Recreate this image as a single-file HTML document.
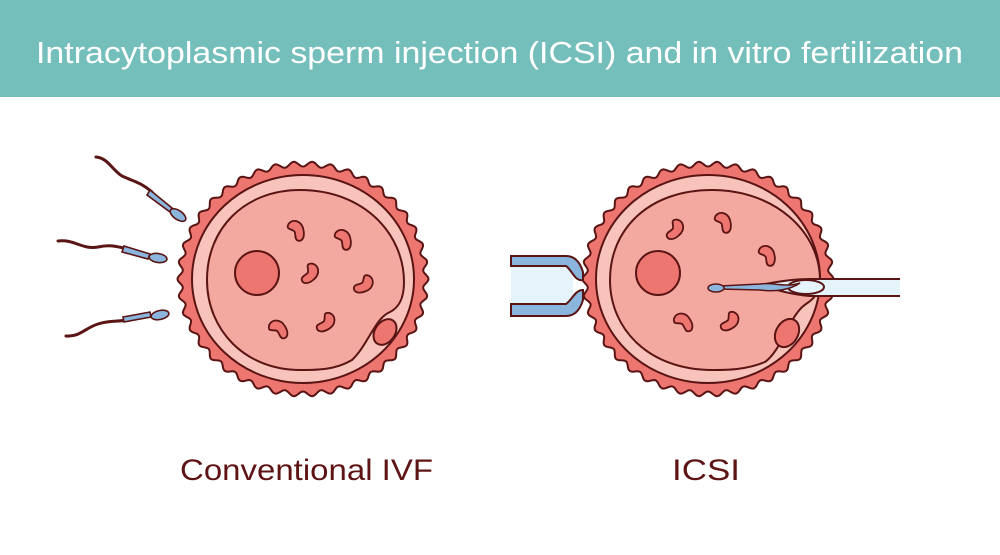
<!DOCTYPE html>
<html><head><meta charset="utf-8"><style>
html,body{margin:0;padding:0;background:#fff;}
svg{display:block;}
</style></head><body>
<svg id="s" width="1000" height="555" viewBox="0 0 1000 555" xmlns="http://www.w3.org/2000/svg">
<defs>
<path id="k" d="M-5,-4 C-2,-8 4,-6 5,0 C6,5 4,8 1,7 C-1,6 0,3 -1,1 C-3,-1 -7,0 -5,-4 Z"/>
</defs>
<rect x="0" y="0" width="1000" height="97" fill="#74bfbb"/>
<text x="36" y="63" font-family="Liberation Sans, sans-serif" font-size="31" fill="#fff" textLength="927" lengthAdjust="spacingAndGlyphs">Intracytoplasmic sperm injection (ICSI) and in vitro fertilization</text>

<g stroke="#5a1414" stroke-width="2" stroke-linejoin="round">
<path id="w1" fill="#ee7670"/>
<ellipse cx="303" cy="279" rx="111" ry="104" fill="#f7c3ba"/>
<path d="M300,190 C365,190 404,235 404,282 C404,300 398,308 390,312 C375,318 368,345 352,360 C335,370 318,370 300,370 C245,370 207,330 207,280 C207,228 245,190 300,190 Z" fill="#f4a9a0"/>
<circle cx="257" cy="273" r="22" fill="#ee7670"/>
<ellipse cx="385" cy="332" rx="10" ry="14" transform="rotate(35 385 332)" fill="#ee7670"/>
<path id="w2" fill="#ee7670"/>
<ellipse cx="708" cy="279" rx="112" ry="104" fill="#f7c3ba"/>
<path d="M712,190 C775,190 820,232 820,280 C820,292 815,298 806,304 C790,314 782,350 765,362 C745,370 728,370 712,370 C650,370 610,330 610,280 C610,228 650,190 712,190 Z" fill="#f4a9a0"/>
<circle cx="658" cy="273" r="22" fill="#ee7670"/>
<ellipse cx="787" cy="333" rx="11" ry="15" transform="rotate(30 787 333)" fill="#ee7670"/>
</g>

<g fill="#ee7670" stroke="#5a1414" stroke-width="1.2">
<use href="#k" transform="translate(296,230) scale(1.5)"/>
<use href="#k" transform="translate(343,239) scale(1.5)"/>
<use href="#k" transform="translate(310,273) rotate(60) scale(1.5)"/>
<use href="#k" transform="translate(364,284) rotate(80) scale(1.5)"/>
<use href="#k" transform="translate(326,322) rotate(70) scale(1.5)"/>
<use href="#k" transform="translate(278,329) rotate(-20) scale(1.5)"/>
<use href="#k" transform="translate(675,229) rotate(60) scale(1.5)"/>
<use href="#k" transform="translate(723,222) scale(1.5)"/>
<use href="#k" transform="translate(767,255) scale(1.5)"/>
<use href="#k" transform="translate(683,322) rotate(-20) scale(1.5)"/>
<use href="#k" transform="translate(730,321) rotate(70) scale(1.5)"/>
</g>

<g stroke="#5a1414" stroke-width="3" fill="none" stroke-linecap="round">
<path d="M96,157 C108,158 112,170 122,176 C135,182 140,182 152,192"/>
<path d="M58,241 C75,239 82,250 98,247 C112,244 118,247 128,249"/>
<path d="M66,336 C80,337 85,328 98,324 C110,320 118,322 126,320"/>
</g>
<g fill="#8ab6de" stroke="#5a1414" stroke-width="1.6">
<path d="M150,190 L172,208 L170,212 L147,195 Z"/>
<ellipse cx="178" cy="215" rx="9" ry="4.5" transform="rotate(35 178 215)"/>
<path d="M124,246 L150,254 L148,259 L122,252 Z"/>
<ellipse cx="158" cy="258" rx="9" ry="4.5" transform="rotate(8 158 258)"/>
<path d="M123,317 L150,312 L151,317 L124,322 Z"/>
<ellipse cx="160" cy="315" rx="9" ry="4.5" transform="rotate(-12 160 315)"/>
</g>

<g stroke="#5a1414" stroke-width="2">
<rect x="511" y="259" width="62" height="51" fill="#e5f3fb" stroke="none"/>
<path d="M511,256 L566,256 C575,256 580,262 583,272 L583,280 C575,282 572,270 566,266 L511,266 Z" fill="#8ab6de"/>
<path d="M511,304 L566,304 C572,300 575,290 583,290 L583,300 C580,310 575,316 566,316 L511,316 Z" fill="#8ab6de"/>
</g>

<g stroke="#5a1414" stroke-width="2">
<path d="M900,279 L810,279 C795,279 775,282 760,285 C775,290 795,295 810,296 L900,296" fill="#e5f3fb"/>
<ellipse cx="806" cy="287" rx="18" ry="7" fill="#e5f3fb"/>
<path d="M720,286 L760,284 C775,282 785,288 800,283 C790,290 775,292 760,290 L720,289 Z" fill="#8ab6de" stroke-width="1.5"/>
<ellipse cx="716" cy="288" rx="8" ry="4" fill="#8ab6de" stroke-width="1.5"/>
</g>

<text x="180" y="480" font-family="Liberation Sans, sans-serif" font-size="30" fill="#5e1414" textLength="253" lengthAdjust="spacingAndGlyphs">Conventional IVF</text>
<text x="672" y="480" font-family="Liberation Sans, sans-serif" font-size="30" fill="#5e1414" textLength="68" lengthAdjust="spacingAndGlyphs">ICSI</text>
</svg>
<script>
function wave(cx,cy,rx,ry,n,a){var d="";for(var i=0;i<=720;i++){var t=i/720*2*Math.PI;var w=a*Math.cos(n*t);var x=cx+(rx+w)*Math.cos(t),y=cy+(ry+w)*Math.sin(t);d+=(i?"L":"M")+x.toFixed(1)+","+y.toFixed(1);}return d+"Z";}
document.getElementById("w1").setAttribute("d",wave(303,279,123,115,42,2.5));
document.getElementById("w2").setAttribute("d",wave(708,279,123,115,42,2.5));
</script>
</body></html>
